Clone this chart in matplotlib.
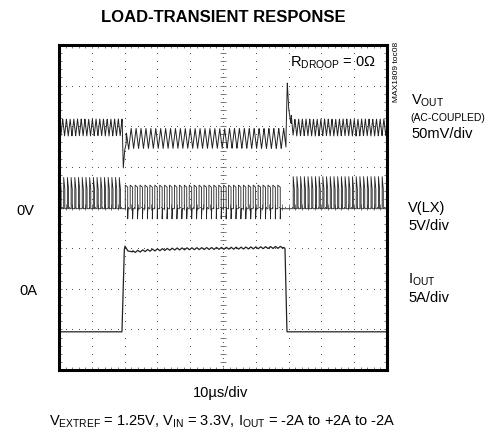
import numpy as np
import matplotlib.pyplot as plt

plt.rcParams['font.family'] = ['Liberation Sans', 'DejaVu Sans']
plt.rcParams['mathtext.fontset'] = 'custom'
plt.rcParams['mathtext.rm'] = 'Liberation Sans'
plt.rcParams['mathtext.it'] = 'Liberation Sans'
plt.rcParams['mathtext.bf'] = 'Liberation Sans:bold'

# scope screen: 10 div x 10us horizontal, 8 div vertical (values in divisions)
# VOUT (AC-coupled, 50mV/div)
vout_t = [0.0, 19.3, 19.6, 20.0, 20.6, 21.5, 69.2, 69.6, 70.0, 70.6, 71.5, 100.0]
vout_mid = [5.97, 5.97, 4.97, 5.40, 5.62, 5.70, 5.70, 7.09, 6.45, 6.10, 5.97, 5.97]
vout_seg = [(0.0, 19.3), (20.5, 69.2), (70.8, 100.0)]
vout_pp = [0.42, 0.50, 0.42]
vout_period = [1.13, 1.5, 1.13]

# V(LX), 5V/div
lx_base = 3.97
lx_seg = [(0.3, 19.4), (20.2, 69.0), (71.4, 100.0)]
lx_high = [4.74, 4.55, 4.76]
lx_droop = [4.45, 4.50, 4.45]
lx_dip = [3.97, 3.72, 3.97]
lx_period = [1.13, 1.5, 1.13]
lx_width = [0.35, 0.75, 0.35]

# IOUT, 5A/div
iout_t = [0, 19.2, 19.9, 20.1, 21.0, 22.2, 28, 36, 45, 55, 68.3, 68.9, 69.5, 100]
iout_v = [0.94, 0.94, 2.95, 3.05, 2.93, 2.91, 2.95, 2.98, 2.99, 3.00, 3.02, 3.00, 0.94, 0.94]
iout_pp = 0.05

fig = plt.figure(figsize=(4.9, 4.4), dpi=100)
ax = fig.add_axes([59 / 490, 70 / 440, 328 / 490, 325 / 440])
ax.set_xlim(0, 100)
ax.set_ylim(0, 8)
ax.set_xticks([])
ax.set_yticks([])
for s in ax.spines.values():
    s.set_linewidth(2.2)

# graticule: dotted grid, centre crosshair with minor ticks, edge ticks
minor_x = np.arange(0, 100.01, 2)
minor_y = np.arange(0, 8.01, 0.2)
fine_x = np.arange(0, 100.01, 1)
fine_y = np.arange(0, 8.01, 0.1)
for gx in range(10, 100, 10):
    ax.plot([gx] * len(minor_y), minor_y, ls='none', marker='s', ms=0.7, color='#555', mew=0)
for gy in range(1, 8):
    ax.plot(minor_x, [gy] * len(minor_x), ls='none', marker='s', ms=0.7, color='#555', mew=0)
ax.plot([50] * len(fine_y), fine_y, ls='none', marker='s', ms=0.7, color='#555', mew=0)
ax.plot(fine_x, [4] * len(fine_x), ls='none', marker='s', ms=0.7, color='#555', mew=0)
ax.plot([50] * len(minor_y), minor_y, ls='none', marker='_', ms=4, color='#666', mew=0.6)
ax.plot(minor_x, [4] * len(minor_x), ls='none', marker='|', ms=4, color='#666', mew=0.6)
for ex in (0.5, 99.5):
    ax.plot([ex] * len(minor_y), minor_y, ls='none', marker='_', ms=2, color='#666', mew=0.6)
for ey in (0.06, 7.94):
    ax.plot(minor_x, [ey] * len(minor_x), ls='none', marker='|', ms=2, color='#666', mew=0.6)

# VOUT trace
tt = np.linspace(0, 100, 4000)
vv = np.interp(tt, vout_t, vout_mid)
for (a, b), pp, per in zip(vout_seg, vout_pp, vout_period):
    m = (tt >= a) & (tt <= b)
    ph = ((tt[m] - a) / per) % 1.0
    vv[m] += pp * (np.abs(2 * ph - 1) - 0.5)
ax.plot(tt, vv, color='#222', lw=0.7)

# V(LX) trace
lx_t = [0.0]
lx_v = [lx_base]
for (a, b), hi, dr, dp, per, w in zip(lx_seg, lx_high, lx_droop, lx_dip, lx_period, lx_width):
    t0 = a
    while t0 + w + 0.2 < b:
        lx_t += [t0, t0, t0 + w, t0 + w, t0 + w + 0.12]
        lx_v += [lx_base, hi, dr, dp, lx_base]
        t0 += per
lx_t.append(100.0)
lx_v.append(lx_base)
ax.plot(lx_t, lx_v, color='#222', lw=0.6)

# IOUT trace
it = np.linspace(0, 100, 2000)
iv = np.interp(it, iout_t, iout_v)
m = (it > 22.5) & (it < 68.3)
iv[m] += iout_pp * (np.abs(2 * ((it[m] / 1.5) % 1.0) - 1) - 0.5)
ax.plot(it, iv, color='#222', lw=0.9)

# labels
def px(x, y):
    return x / 490, 1 - y / 440

fs = 10.5
fig.text(*px(223, 17), 'LOAD-TRANSIENT RESPONSE', ha='center', va='center',
         fontsize=12, fontweight='bold')
fig.text(*px(333, 63), r'$\mathregular{R_{DROOP}}$ = 0Ω', ha='center', va='center', fontsize=fs)
fig.text(*px(396, 72), 'MAX1809 toc08', ha='center', va='center', fontsize=6, rotation=90)
fig.text(*px(411, 101), r'$\mathregular{V_{OUT}}$', ha='left', va='center', fontsize=fs)
fig.text(*px(410, 118), '(AC-COUPLED)', ha='left', va='center', fontsize=7.5)
fig.text(*px(411, 134), '50mV/div', ha='left', va='center', fontsize=fs)
fig.text(*px(408, 208), 'V(LX)', ha='left', va='center', fontsize=fs)
fig.text(*px(408, 226), '5V/div', ha='left', va='center', fontsize=fs)
fig.text(*px(408, 280), r'$\mathregular{I_{OUT}}$', ha='left', va='center', fontsize=fs)
fig.text(*px(408, 298), '5A/div', ha='left', va='center', fontsize=fs)
fig.text(*px(25, 211), '0V', ha='center', va='center', fontsize=fs)
fig.text(*px(28, 291), '0A', ha='center', va='center', fontsize=fs)
fig.text(*px(221, 393), '10µs/div', ha='center', va='center', fontsize=fs)
fig.text(*px(222, 422),
         r'$\mathregular{V_{EXTREF}}$ = 1.25V, $\mathregular{V_{IN}}$ = 3.3V, '
         r'$\mathregular{I_{OUT}}$ = -2A to +2A to -2A',
         ha='center', va='center', fontsize=fs)

fig.savefig('out.png', dpi=100)
